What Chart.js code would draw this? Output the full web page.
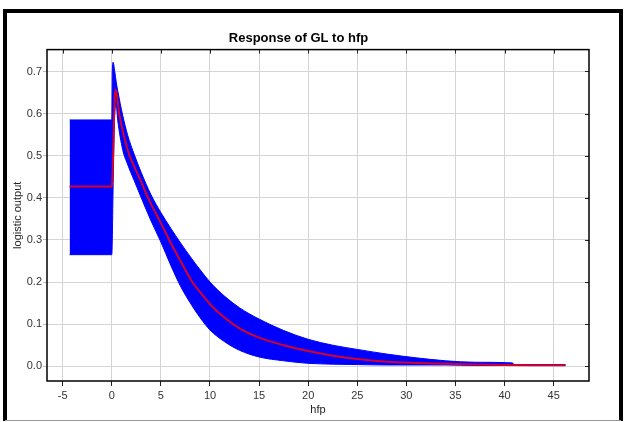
<!DOCTYPE html>
<html>
<head>
<meta charset="utf-8">
<script src="https://cdn.jsdelivr.net/npm/chart.js@4.4.0/dist/chart.umd.min.js"></script>
<style>
  html, body { margin: 0; padding: 0; background: #fff; }
  #wrap { width: 624px; height: 422px; }
</style>
</head>
<body>
<div id="wrap"><canvas id="chart" width="624" height="422"></canvas></div>
<script>
// mean response (red line)
const meanX = [-4.3, 0, 0.05, 0.3, 0.4, 0.75, 1.2, 1.77, 2.4, 2.9, 3.4, 4.0, 5.0, 5.85, 7.0, 8.2, 9.2, 10.3, 11.5, 13, 15, 17.5, 20, 22.5, 25, 28, 31, 34, 37, 40, 43, 46.2];
const meanY = [0.427, 0.427, 0.44, 0.64, 0.657, 0.60, 0.55, 0.503, 0.468, 0.443, 0.415, 0.385, 0.34, 0.30, 0.25, 0.20, 0.17, 0.14, 0.115, 0.09, 0.068, 0.05, 0.036, 0.025, 0.017, 0.011, 0.008, 0.006, 0.004, 0.003, 0.0025, 0.0025];

// spread of responses (blue band)
const bandX = [-4.3, 0, 0.05, 0.13, 0.3, 0.45, 0.6, 1.1, 1.6, 2.3, 3.0, 4.0, 5.0, 6.0, 7.0, 8.0, 9.0, 10, 11.5, 13, 15, 17.5, 20, 22.5, 25, 28, 31, 34, 37, 40.8, 41, 46.2];
const bandUpper = [0.585, 0.585, 0.70, 0.722, 0.70, 0.675, 0.655, 0.597, 0.55, 0.502, 0.46, 0.407, 0.365, 0.328, 0.293, 0.26, 0.229, 0.2, 0.166, 0.139, 0.112, 0.085, 0.064, 0.05, 0.04, 0.029, 0.02, 0.013, 0.0095, 0.008, 0.004, 0.004];
const bandLower = [0.265, 0.265, 0.30, 0.42, 0.60, 0.62, 0.585, 0.515, 0.48, 0.44, 0.40, 0.345, 0.295, 0.24, 0.19, 0.15, 0.115, 0.086, 0.058, 0.038, 0.022, 0.013, 0.007, 0.005, 0.004, 0.003, 0.003, 0.003, 0.002, 0.002, 0.002, 0.002];

const xTicks = [-5, 0, 5, 10, 15, 20, 25, 30, 35, 40, 45];
const yTicks = [0, 0.1, 0.2, 0.3, 0.4, 0.5, 0.6, 0.7];

const pts = (xs, ys) => xs.map((x, i) => ({ x: x, y: ys[i] }));

// box around plot, inner tick marks and the outer frame
const framePlugin = {
  id: "frame",
  afterDraw(chart) {
    const ctx = chart.ctx;
    const a = chart.chartArea;
    const sx = chart.scales.x;
    const sy = chart.scales.y;
    ctx.save();
    ctx.strokeStyle = "#222";
    ctx.lineWidth = 1;
    xTicks.forEach((v) => {
      const px = Math.round(sx.getPixelForValue(v)) + 0.5;
      ctx.beginPath();
      ctx.moveTo(px, a.top);
      ctx.lineTo(px, a.top + 4);
      ctx.stroke();
    });
    yTicks.forEach((v) => {
      const py = Math.round(sy.getPixelForValue(v)) + 0.5;
      ctx.beginPath();
      ctx.moveTo(a.right, py);
      ctx.lineTo(a.right - 4, py);
      ctx.stroke();
    });
    ctx.strokeStyle = "#000";
    ctx.lineWidth = 1.5;
    ctx.strokeRect(a.left, a.top, a.right - a.left, a.bottom - a.top);
    // outer frame
    ctx.lineWidth = 4;
    ctx.beginPath();
    ctx.moveTo(5, 421);
    ctx.lineTo(5, 11);
    ctx.lineTo(621, 11);
    ctx.lineTo(621, 421);
    ctx.stroke();
    ctx.strokeStyle = "#999";
    ctx.lineWidth = 1;
    ctx.beginPath();
    ctx.moveTo(5, 420.5);
    ctx.lineTo(621, 420.5);
    ctx.stroke();
    ctx.restore();
  },
};

const tickFont = { family: "'Liberation Sans', Arial, sans-serif", size: 11 };

new Chart(document.getElementById("chart"), {
  type: "line",
  data: {
    datasets: [
      {
        label: "mean",
        data: pts(meanX, meanY),
        borderColor: "rgb(215, 0, 40)",
        borderWidth: 2,
        pointRadius: 0,
        fill: false,
        cubicInterpolationMode: "monotone",
      },
      {
        label: "upper",
        data: pts(bandX, bandUpper),
        borderColor: "rgb(0, 0, 255)",
        backgroundColor: "rgb(0, 0, 255)",
        borderWidth: 1,
        pointRadius: 0,
        fill: "+1",
        cubicInterpolationMode: "monotone",
      },
      {
        label: "lower",
        data: pts(bandX, bandLower),
        borderColor: "rgb(0, 0, 255)",
        borderWidth: 1,
        pointRadius: 0,
        fill: false,
        cubicInterpolationMode: "monotone",
      },
    ],
  },
  options: {
    responsive: false,
    animation: false,
    layout: { padding: { left: 8, right: 35, top: 14, bottom: 5 } },
    plugins: {
      legend: { display: false },
      tooltip: { enabled: false },
      title: {
        display: true,
        text: "Response of GL to hfp",
        color: "#000",
        font: { family: "'Liberation Sans', Arial, sans-serif", size: 13, weight: "bold" },
        padding: { top: 17, bottom: 3 },
      },
    },
    scales: {
      x: {
        type: "linear",
        min: -6.6,
        max: 48.6,
        afterFit: (s) => { s.height = 36; },
        afterBuildTicks: (s) => { s.ticks = xTicks.map((v) => ({ value: v })); },
        grid: { color: "#d4d4d4", tickColor: "#222", tickLength: 5, lineWidth: 1 },
        border: { display: false },
        ticks: { font: tickFont, color: "#333", padding: 3, maxRotation: 0, includeBounds: false },
        title: { display: true, text: "hfp", font: tickFont, color: "#222", padding: { top: 0, bottom: 0 } },
      },
      y: {
        type: "linear",
        min: -0.035,
        max: 0.752,
        afterFit: (s) => { s.width = 39; },
        afterBuildTicks: (s) => { s.ticks = yTicks.map((v) => ({ value: v })); },
        grid: { color: "#d4d4d4", tickColor: "#bbb", tickLength: 4, lineWidth: 1 },
        border: { display: false },
        ticks: { font: tickFont, color: "#333", padding: 1, callback: (v) => Number(v).toFixed(1) },
        title: { display: true, text: "logistic output", font: tickFont, color: "#222", padding: { top: 3, bottom: 0 } },
      },
    },
  },
  plugins: [framePlugin],
});
</script>
</body>
</html>
